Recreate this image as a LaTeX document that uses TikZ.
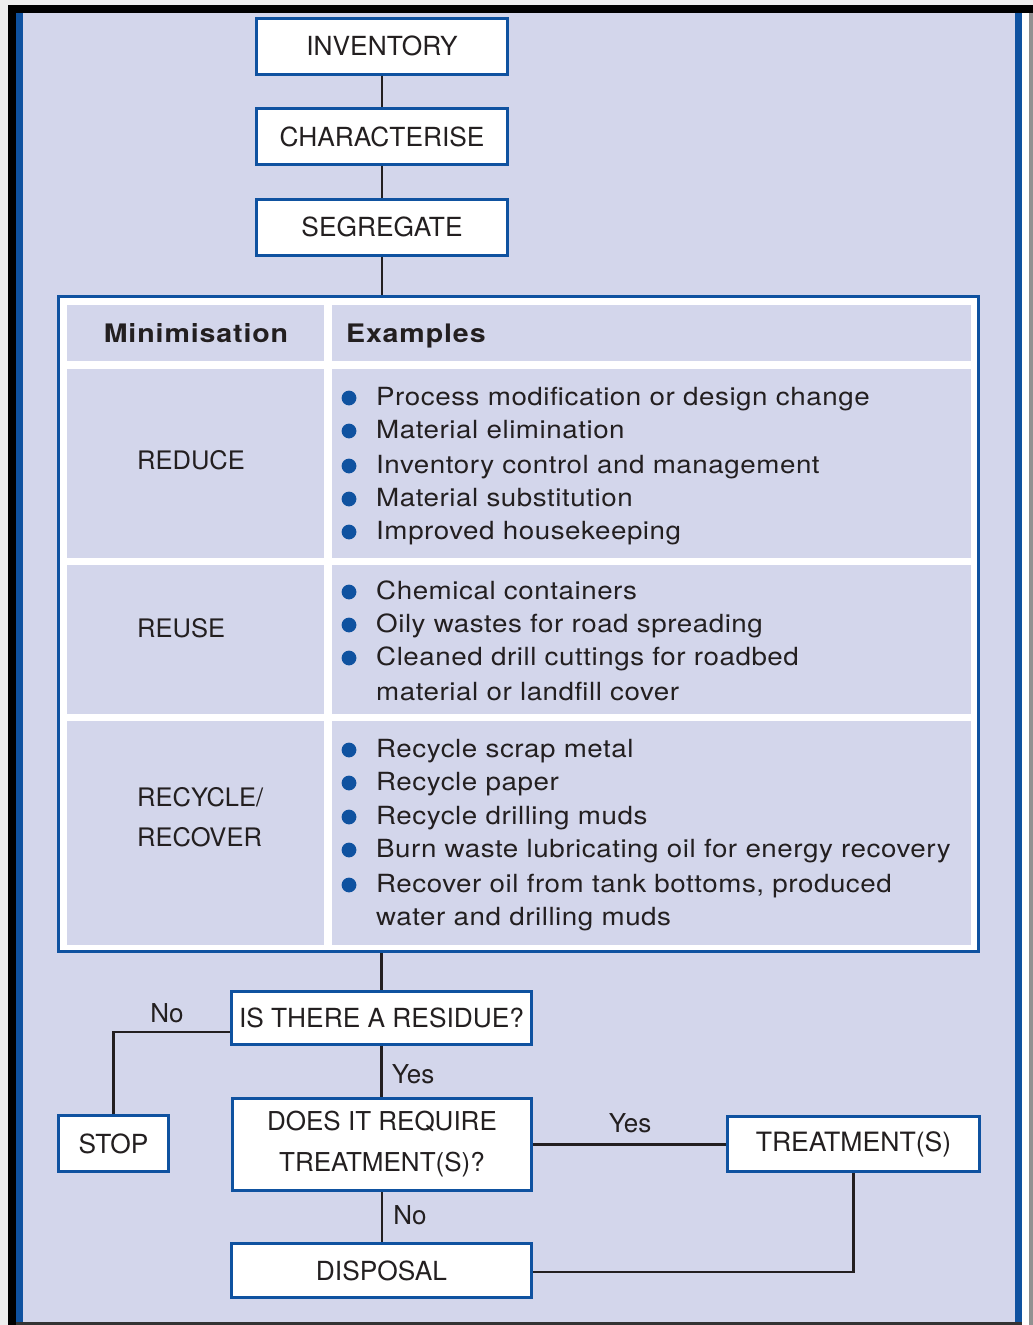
\documentclass[tikz,border=0pt]{standalone}
\usepackage{fontspec}
\setmainfont{TeX Gyre Heros}
\newfontfamily\listfont[FakeStretch=1.11,LetterSpace=2.2]{TeX Gyre Heros}
\newfontfamily\headfont[FakeStretch=1.12,LetterSpace=3.5]{TeX Gyre Heros}
\definecolor{lavender}{RGB}{211,214,235}
\definecolor{boxblue}{RGB}{15,82,160}
\definecolor{inkdark}{RGB}{35,31,32}
\definecolor{edgegray}{RGB}{145,145,145}
\definecolor{margin}{RGB}{238,238,238}
\tikzset{
  flowbox/.style={draw=boxblue, line width=3pt, fill=white, inner sep=0pt,
    text=inkdark, font=\fontsize{26.3}{31}\selectfont, align=center},
  conn/.style={draw=inkdark, line width=2.9pt},
  lbl/.style={text=inkdark, inner sep=0pt, font=\fontsize{26}{31}\selectfont},
  cell/.style={fill=lavender},
  rowlabel/.style={text=inkdark, inner sep=0pt, anchor=base west,
    font=\fontsize{25.5}{30}\selectfont},
  itemtext/.style={text=inkdark, inner sep=0pt, anchor=base west,
    font=\listfont\fontsize{25}{30}\selectfont},
  headtext/.style={text=inkdark, inner sep=0pt, anchor=base,
    font=\headfont\bfseries\fontsize{25.5}{30}\selectfont}
}
\begin{document}
\begin{tikzpicture}[x=1pt,y=-1pt]
\useasboundingbox (0,0) rectangle (1033,1325);
% page frame
\fill[margin] (0,0) rectangle (1033,1325);
\fill[black] (8,5) rectangle (1033,13);
\fill[black] (8,5) rectangle (16,1325);
\fill[lavender] (16,13) rectangle (1022,1322);
\fill[boxblue] (16,13) rectangle (23,1322);
\fill[boxblue] (1015,13) rectangle (1022,1322);
\fill[white] (1022,13) rectangle (1029,1325);
\fill[edgegray] (1029,13) rectangle (1033,1325);
\fill[black!80] (16,1322) rectangle (1022,1325);

% top flow boxes
\node[flowbox, minimum width=251pt, minimum height=56pt] (inv) at (382,46) {INVENTORY};
\node[flowbox, minimum width=251pt, minimum height=56pt] (cha) at (382,136.5) {CHARACTERISE};
\node[flowbox, minimum width=251pt, minimum height=56pt] (seg) at (382,227) {SEGREGATE};

% minimisation table
\node[draw=boxblue, line width=3pt, fill=white, inner sep=0pt,
  minimum width=920pt, minimum height=655pt] (tbl) at (518.5,624) {};
\fill[cell] (67,305) rectangle (324,361);
\fill[cell] (332,305) rectangle (971,361);
\fill[cell] (67,369) rectangle (324,558);
\fill[cell] (332,369) rectangle (971,558);
\fill[cell] (67,565) rectangle (324,714);
\fill[cell] (332,565) rectangle (971,714);
\fill[cell] (67,721) rectangle (324,945);
\fill[cell] (332,721) rectangle (971,945);

\node[headtext] (hmin) at (196,342) {Minimisation};
\node[headtext, anchor=base west] (hex) at (346,342) {Examples};

\node[rowlabel] (lred) at (137,469) {REDUCE};
\node[rowlabel] (lreu) at (137,637) {REUSE};
\node[rowlabel] (lrec) at (137,806) {RECYCLE/};
\node[rowlabel] (lrov) at (137,846) {RECOVER};

% bulleted examples: baseline / text
\foreach \yb/\txt [count=\i] in {
  405.5/Process modification or design change,
  438.5/Material elimination,
  473.5/Inventory control and management,
  506.5/Material substitution,
  539.5/Improved housekeeping,
  599.5/Chemical containers,
  632.5/Oily wastes for road spreading,
  665.5/Cleaned drill cuttings for roadbed,
  757.5/Recycle scrap metal,
  790.5/Recycle paper,
  824.5/Recycle drilling muds,
  857.5/Burn waste lubricating oil for energy recovery,
  892.5/{Recover oil from tank bottoms, produced}}
{
  \fill[boxblue] (349,\yb-7.5) circle[radius=7.4pt];
  \node[itemtext] (item\i) at (376,\yb) {\txt};
}
\node[itemtext] (cont1) at (376,700.5) {material or landfill cover};
\node[itemtext] (cont2) at (376,925.5) {water and drilling muds};

% lower decision boxes
\node[flowbox, minimum width=300pt, minimum height=53pt] (res) at (381.5,1018) {IS THERE A RESIDUE?};
\node[flowbox, minimum width=299pt, minimum height=92pt,
  font=\fontsize{26}{41}\selectfont] (req) at (382,1144.5) {DOES IT REQUIRE\\TREATMENT(S)?};
\node[flowbox, minimum width=110pt, minimum height=56pt] (stop) at (113.5,1143.5) {STOP};
\node[flowbox, minimum width=252pt, minimum height=55pt,
  font=\fontsize{26.6}{30}\selectfont] (trt) at (853.5,1144) {TREATMENT(S)};
\node[flowbox, minimum width=300pt, minimum height=54pt] (disp) at (381.5,1270.5) {DISPOSAL};

% connectors
\draw[conn] (inv) -- (cha);
\draw[conn] (cha) -- (seg);
\draw[conn] (seg.south) -- (seg.south |- tbl.north);
\draw[conn] (res.north |- tbl.south) -- (res.north);
\draw[conn] ([yshift=-14pt]res.west) -| (stop.north);
\draw[conn] (res.south) -- (res.south |- req.north);
\draw[conn] (req.east) -- (req.east -| trt.west);
\draw[conn] (req.south) -- (req.south |- disp.north);
\draw[conn] (trt.south) |- ([yshift=-1.5pt]disp.east);

% branch labels
\node[lbl] (lno1) at (167,1013) {No};
\node[lbl] (lyes1) at (413,1074) {Yes};
\node[lbl] (lyes2) at (630,1123) {Yes};
\node[lbl] (lno2) at (410,1215) {No};
\end{tikzpicture}
\end{document}
